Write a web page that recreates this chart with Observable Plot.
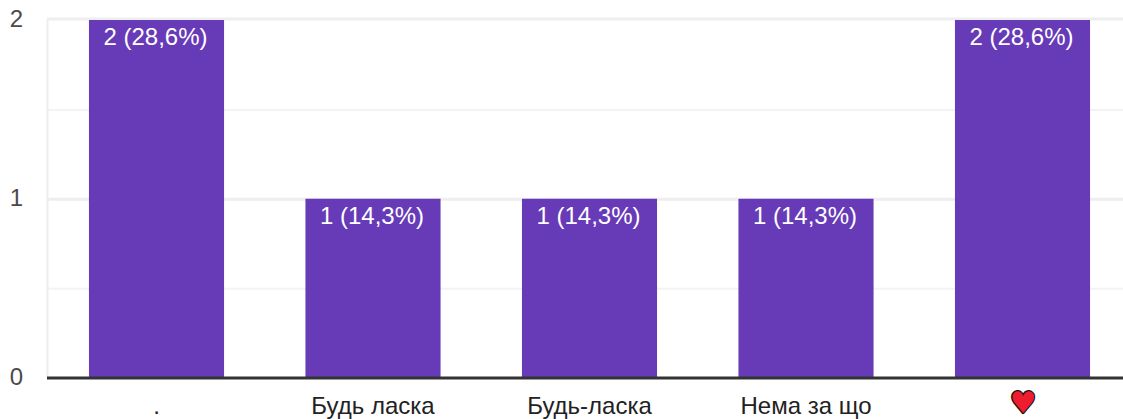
<!DOCTYPE html>
<html><head><meta charset="utf-8">
<script src="https://cdn.jsdelivr.net/npm/d3@7"></script>
<script src="https://cdn.jsdelivr.net/npm/@observablehq/plot@0.6"></script>
<style>html,body{margin:0;padding:0;background:#fff}svg{display:block}</style>
</head><body><div id="c"></div>
<script>
const categories = ["a",  "b", "c", "d", "e"];
const tickLabels = [".", "Будь ласка", "Будь-ласка", "Нема за що", ""];
const counts = [2, 1, 1, 1, 2];
const valueLabels = ["2 (28,6%)", "1 (14,3%)", "1 (14,3%)", "1 (14,3%)", "2 (28,6%)"];
const majorTicks = [0, 1, 2];
const minorTicks = [0.5, 1.5];
const heart = ["♥"];
const bars = categories.map((c, i) => ({c, v: counts[i], label: valueLabels[i], tick: tickLabels[i]}));
const font = "'Liberation Sans', Arial, sans-serif";
const chart = Plot.plot({
  width: 1123, height: 419,
  marginLeft: 47, marginRight: 0, marginTop: 20, marginBottom: 41.5,
  style: {fontFamily: font, fontSize: "24px", background: "#fff", overflow: "hidden"},
  x: {domain: categories, range: [48.25, 1130.75], paddingInner: 0.376, paddingOuter: 0.188, round: false, axis: null},
  y: {type: "linear", domain: [0, 2], axis: null},
  marks: [
    Plot.ruleY(minorTicks, {stroke: "#f3f3f3", strokeWidth: 2}),
    Plot.ruleY([1], {stroke: "#eeeeee", strokeWidth: 3}),
    Plot.ruleY([2], {stroke: "#eeeeee", strokeWidth: 3, dy: -1.5}),
    Plot.ruleX(["a"], {x: d => d, dx: -109.5, y1: 0, y2: 2, stroke: "#eeeeee", strokeWidth: 2}),
    Plot.axisY({ticks: majorTicks, tickSize: 0, tickPadding: 0, label: null, anchor: "left", dx: -31, dy: -1, fill: "#4a4a4a", fontSize: 24, tickFormat: d => d, textAnchor: "middle"}),
    Plot.barY(bars, {x: "c", y: "v", fill: "#673ab7"}),
    Plot.ruleY([0], {stroke: "#333333", strokeWidth: 3}),
    Plot.text(bars, {x: "c", y: "v", text: "label", fill: "#fff", dx: -1.5, dy: 17, fontSize: 24}),
    Plot.text(bars, {x: "c", y: () => 0, text: "tick", fill: "#222", dx: -0.5, dy: 28, fontSize: 24}),
    Plot.text(heart, {x: () => "e", y: () => 0, text: d => d, fill: "#ed1c2e", stroke: "#111", strokeWidth: 2.5, paintOrder: "stroke", dy: 25, fontSize: 30, fontFamily: "DejaVu Sans"})
  ]
});
document.getElementById("c").append(chart);
</script></body></html>
